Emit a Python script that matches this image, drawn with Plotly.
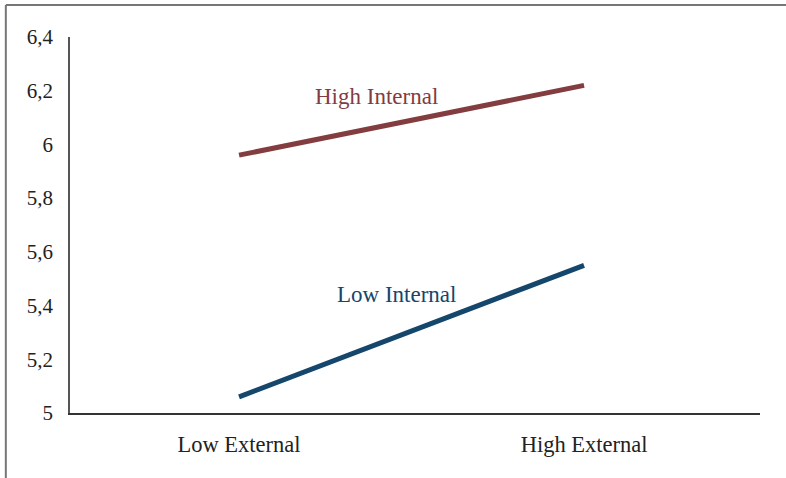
import plotly.graph_objects as go

categories = ["Low External", "High External"]
high_internal = [5.96, 6.22]
low_internal = [5.06, 5.55]
y_ticks = [5, 5.2, 5.4, 5.6, 5.8, 6, 6.2, 6.4]

RED = "#833C3F"
BLUE = "#15466C"
FONT = "Liberation Serif"

fig = go.Figure()
fig.add_trace(go.Scatter(x=categories, y=high_internal, mode="lines",
                         line=dict(color=RED, width=5), name="High Internal"))
fig.add_trace(go.Scatter(x=categories, y=low_internal, mode="lines",
                         line=dict(color=BLUE, width=5), name="Low Internal"))

fig.add_annotation(x=0.397, y=6.18, xref="x", yref="y", text="High Internal",
                   showarrow=False, font=dict(family=FONT, size=23, color=RED))
fig.add_annotation(x=0.455, y=5.44, xref="x", yref="y", text="Low Internal",
                   showarrow=False, font=dict(family=FONT, size=23, color=BLUE))

# outer frame (top and left edges visible)
fig.add_shape(type="line", xref="paper", yref="paper", x0=-0.093, x1=1.1,
              y0=1.085, y1=1.085, line=dict(color="#777777", width=2))
fig.add_shape(type="line", xref="paper", yref="paper", x0=-0.093, x1=-0.093,
              y0=-0.2, y1=1.085, line=dict(color="#777777", width=2))

fig.update_layout(
    width=786, height=478,
    margin=dict(l=70, r=26, t=37, b=65),
    paper_bgcolor="white", plot_bgcolor="white",
    showlegend=False,
    separators=",.",
    font=dict(family=FONT, size=21, color="#222222"),
    xaxis=dict(type="category", range=[-0.49, 1.51], showgrid=False,
               showline=True, linecolor="#333333", linewidth=1.5,
               ticks="", ticklabelstandoff=10, tickfont=dict(size=22.5)),
    yaxis=dict(range=[5, 6.4], tickvals=y_ticks, showgrid=False,
               showline=True, linecolor="#555555", linewidth=1.5,
               ticks="", zeroline=False, ticklabelstandoff=11,
               tickfont=dict(size=21)),
)

fig.write_html("out.html", config={"displayModeBar": False},
               post_script="document.body.style.margin='0';")
